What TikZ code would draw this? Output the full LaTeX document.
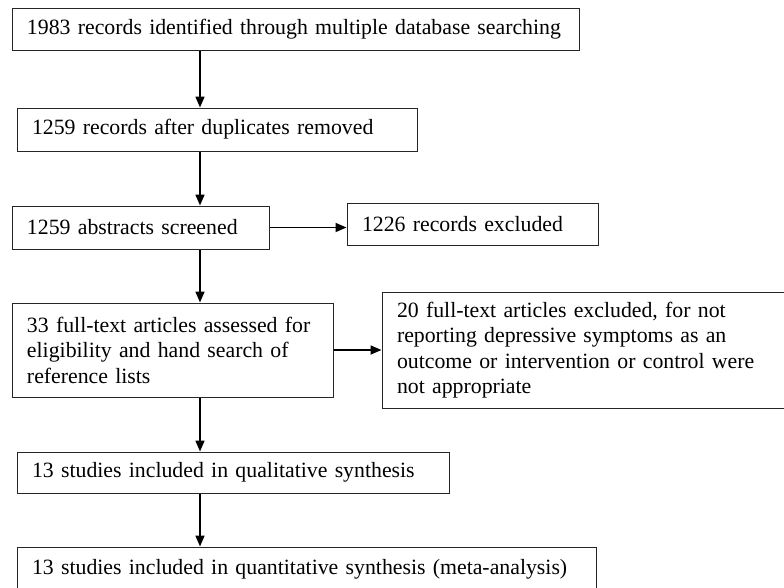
\documentclass[tikz,border=0pt]{standalone}
\usepackage{fontspec}
\setmainfont{Liberation Serif}
\usetikzlibrary{arrows.meta}
\begin{document}
\begin{tikzpicture}[x=1pt,y=-1pt,
  box/.style={draw=black!85, line width=1pt, rectangle, inner xsep=15pt, inner ysep=0pt,
    align=left, font=\fontsize{21.8}{25.5}\selectfont,
    execute at begin node={\hyphenpenalty=10000\exhyphenpenalty=10000\relax}},
  arr/.style={line width=1.7pt, -{Triangle[length=11pt,width=9pt]}}]
\useasboundingbox (0,0) rectangle (784,587);
\coordinate (spine) at (200,0);
\node[box, minimum width=567pt, minimum height=42pt, text width=537pt] (b1) at (295.5,29)
  {\mbox{1983 records identified through multiple database searching}};
\node[box, minimum width=400pt, minimum height=43pt, text width=370pt] (b2) at (217,129.5)
  {1259 records after duplicates removed};
\node[box, minimum width=257pt, minimum height=43pt, text width=227pt] (b3) at (140.5,227.5)
  {1259 abstracts screened};
\node[box, minimum width=251pt, minimum height=42pt, text width=221pt] (b4) at (472.5,224)
  {1226 records excluded};
\node[box, minimum width=321pt, minimum height=94pt, text width=291pt] (b5) at (172.5,350)
  {\mbox{33 full-text articles assessed for}\\\mbox{eligibility and hand search of}\\reference lists};
\node[box, minimum width=410pt, minimum height=116pt, text width=380pt] (b6) at (587,350)
  {\mbox{20 full-text articles excluded, for not}\\\mbox{reporting depressive symptoms as an}\\\mbox{outcome or intervention or control were}\\not appropriate};
\node[box, minimum width=432pt, minimum height=41pt, text width=402pt] (b7) at (233,472.5)
  {13 studies included in qualitative synthesis};
\node[box, minimum width=579pt, minimum height=45pt, text width=549pt] (b8) at (306.5,569.5)
  {\mbox{13 studies included in quantitative synthesis (meta-analysis)}};
\draw[arr] (b1.south -| spine) -- (b2.north -| spine);
\draw[arr] (b2.south -| spine) -- (b3.north -| spine);
\draw[arr] (b3.east) -- (b3.east -| b4.west);
\draw[arr] (b3.south -| spine) -- (b5.north -| spine);
\draw[arr] (b5.east) -- (b5.east -| b6.west);
\draw[arr] (b5.south -| spine) -- (b7.north -| spine);
\draw[arr] (b7.south -| spine) -- (b8.north -| spine);
\end{tikzpicture}
\end{document}
